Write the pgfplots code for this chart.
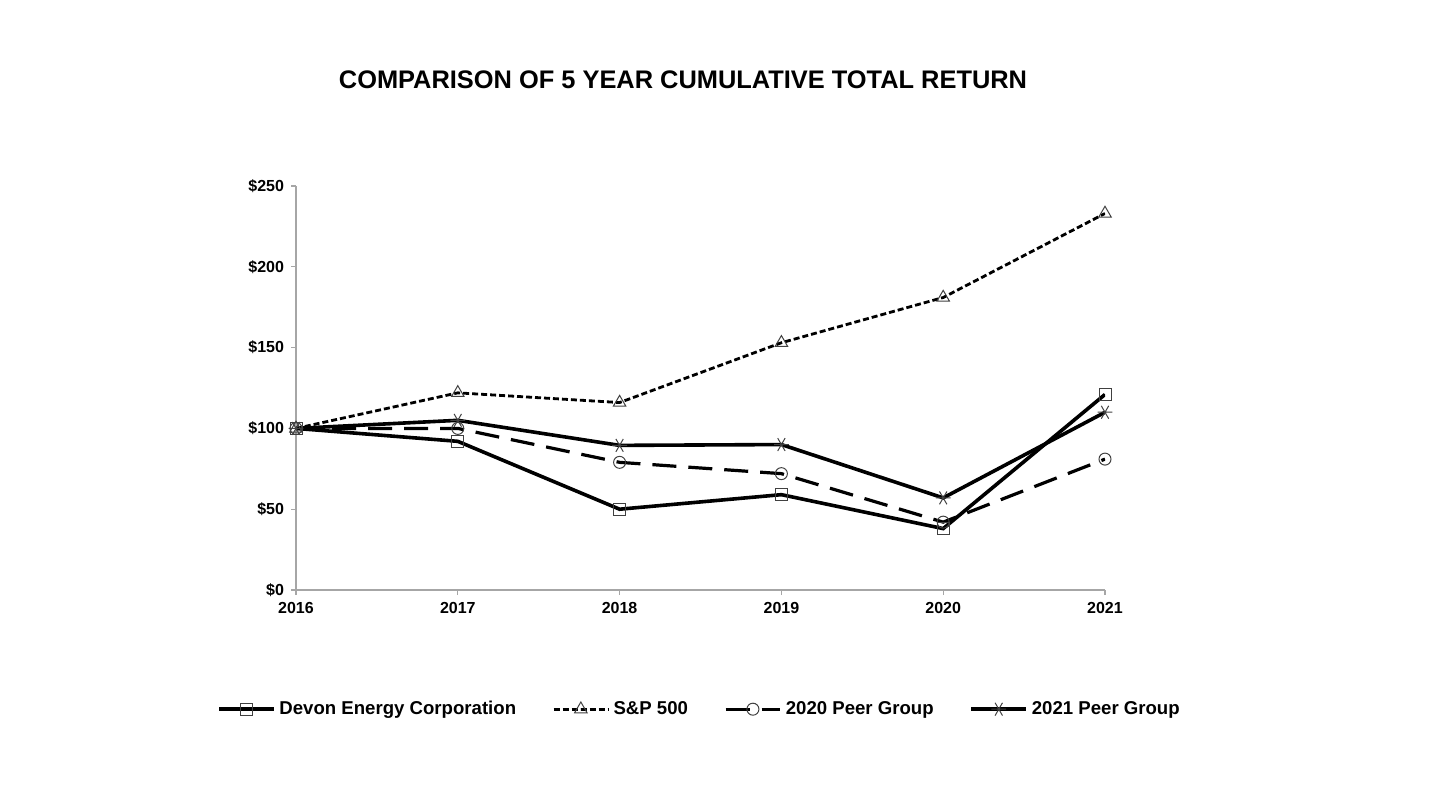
\documentclass[border=0pt]{standalone}
\usepackage{pgfplots}
\pgfplotsset{compat=1.18}
\usepackage{fontspec}
\setmainfont{Liberation Sans}
\begin{document}
\begin{tikzpicture}
% 1 px of the reference = 0.5pt
\useasboundingbox (0pt,0pt) rectangle (723pt,405.5pt);
\node[font=\bfseries\fontsize{12.7}{14}\selectfont] at (341.5pt,365.5pt) {COMPARISON OF 5 YEAR CUMULATIVE TOTAL RETURN};
\begin{axis}[
    at={(148pt,110.5pt)}, anchor=origin,
    scale only axis,
    width=404.5pt, height=202pt,
    xmin=2016, xmax=2021, ymin=0, ymax=250,
    axis x line=bottom, axis y line=left,
    axis line style={gray!70, -, line width=0.6pt},
    tick style={gray!70, line width=0.6pt},
    tick align=outside, major tick length=2.5pt,
    xtick={2016,2017,2018,2019,2020,2021},
    xticklabels={2016,2017,2018,2019,2020,2021},
    ytick={0,50,100,150,200,250},
    yticklabels={\$0,\$50,\$100,\$150,\$200,\$250},
    ticklabel style={font=\bfseries\fontsize{8}{9}\selectfont},
    legend columns=4,
    legend style={draw=none, at={(0.5,-0.295)}, anchor=center,
        font=\bfseries\fontsize{9.3}{11}\selectfont,
        /tikz/every even column/.append style={column sep=16pt}},
    legend image code/.code={\draw[mark repeat=2,mark phase=2,#1] plot coordinates {(0cm,0cm) (0.48cm,0cm) (0.96cm,0cm)};},
    every axis plot/.append style={mark size=3pt},
]
\addplot[black, line width=1.8pt, mark=square, mark options={solid, line width=0.5pt, gray!50!black}] coordinates {
    (2016,100) (2017,92) (2018,50) (2019,59) (2020,38) (2021,121)};
\addlegendentry{Devon Energy Corporation}
\addplot[black, line width=1.4pt, dash pattern=on 3pt off 1.5pt, mark=triangle, mark options={solid, mark size=3.6pt, line width=0.5pt, gray!50!black}] coordinates {
    (2016,100) (2017,122) (2018,116) (2019,153) (2020,181) (2021,233)};
\addlegendentry{S\&P 500}
\addplot[black, line width=1.6pt, dash pattern=on 12pt off 6pt, mark=o, mark options={solid, line width=0.5pt, gray!50!black}] coordinates {
    (2016,100) (2017,100) (2018,79) (2019,72) (2020,42) (2021,81)};
\addlegendentry{2020 Peer Group}
\addplot[black, line width=1.8pt, mark=asterisk, mark options={solid, rotate=90, mark size=3.7pt, line width=0.5pt, gray!50!black}] coordinates {
    (2016,100) (2017,105) (2018,89.5) (2019,90) (2020,57) (2021,110)};
\addlegendentry{2021 Peer Group}
\end{axis}
\end{tikzpicture}
\end{document}
